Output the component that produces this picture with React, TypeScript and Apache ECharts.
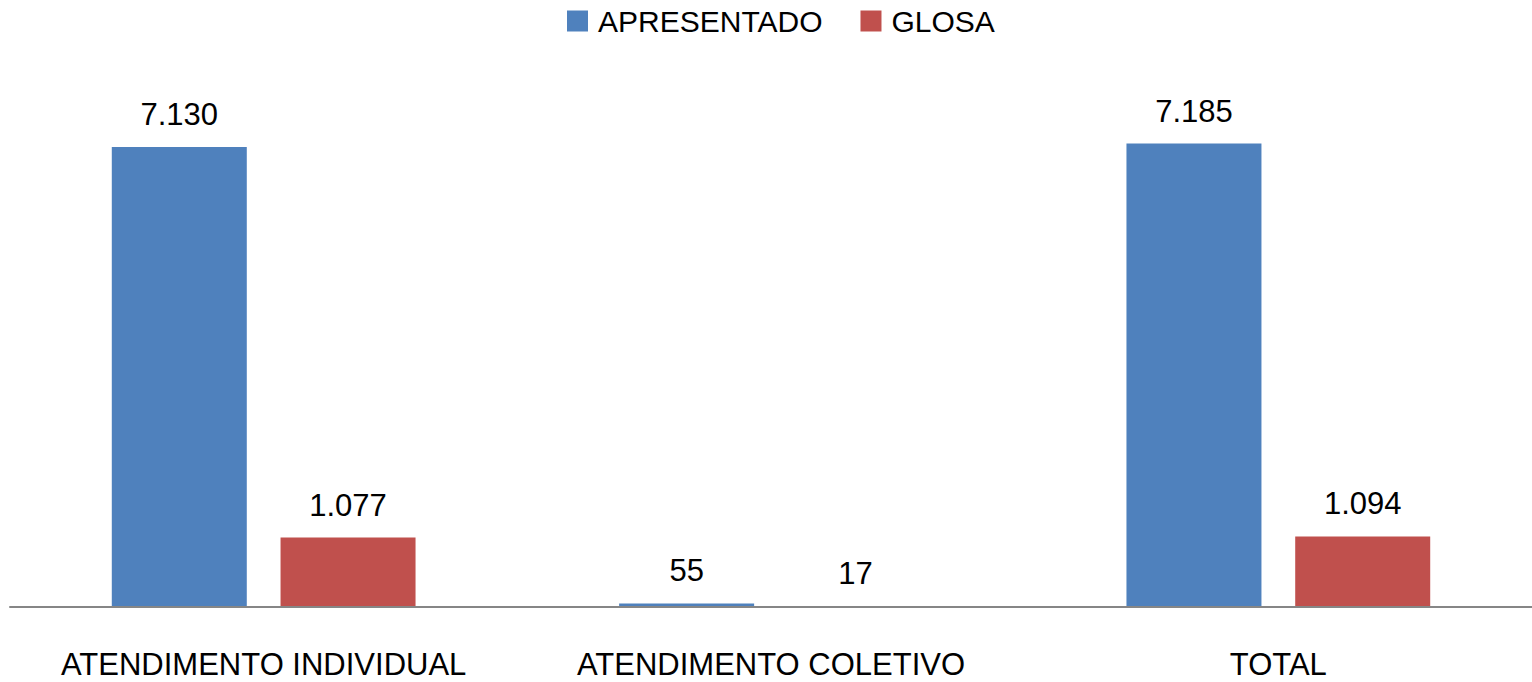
import React, { useEffect, useRef } from "react";
import * as echarts from "echarts";

const categories = ["ATENDIMENTO INDIVIDUAL", "ATENDIMENTO COLETIVO", "TOTAL"];
const apresentado = [7130, 55, 7185];
const glosa = [1077, 17, 1094];
const seriesNames = ["APRESENTADO", "GLOSA"];

const FONT = "'Liberation Sans', Arial, sans-serif";

function fmt(v: number): string {
  return String(Math.round(v)).replace(/\B(?=(\d{3})+(?!\d))/g, ".");
}

export default function App() {
  const ref = useRef<HTMLDivElement>(null);
  useEffect(() => {
    if (!ref.current) return;
    const chart = echarts.init(ref.current, undefined, { renderer: "svg" });
    const label = {
      show: true,
      position: "top",
      distance: 17,
      color: "#000",
      fontSize: 31,
      fontFamily: FONT,
      formatter: (p: any) => fmt(p.value),
    };
    chart.setOption({
      animation: false,
      backgroundColor: "#ffffff",
      legend: {
        data: seriesNames,
        left: 567,
        top: 6,
        padding: 0,
        itemWidth: 21,
        itemHeight: 21,
        itemGap: 38,
        icon: "rect",
        textStyle: { fontSize: 30, fontFamily: FONT, color: "#000", padding: [0, 0, 0, 5] },
      },
      grid: { left: 10, right: 0, top: 91, bottom: 75, containLabel: false },
      xAxis: {
        type: "category",
        data: categories,
        z: 5,
        axisLine: { show: true, lineStyle: { color: "#868686", width: 2 } },
        axisTick: { show: false },
        axisLabel: {
          color: "#000",
          fontSize: 31,
          lineHeight: 31,
          fontFamily: FONT,
          margin: 42,
          interval: 0,
        },
      },
      yAxis: {
        type: "value",
        min: 0,
        max: 8000,
        show: false,
        splitLine: { show: false },
      },
      series: [
        {
          name: seriesNames[0],
          type: "bar",
          data: apresentado,
          barWidth: 135,
          barGap: "25%",
          itemStyle: { color: "#4F81BD" },
          label,
        },
        {
          name: seriesNames[1],
          type: "bar",
          data: glosa,
          barWidth: 135,
          barGap: "25%",
          itemStyle: { color: "#C0504D" },
          label,
        },
      ],
    });
    return () => chart.dispose();
  }, []);
  return (
    <div
      ref={ref}
      style={{ position: "absolute", left: 0, top: 0, width: 1532, height: 682 }}
    />
  );
}
